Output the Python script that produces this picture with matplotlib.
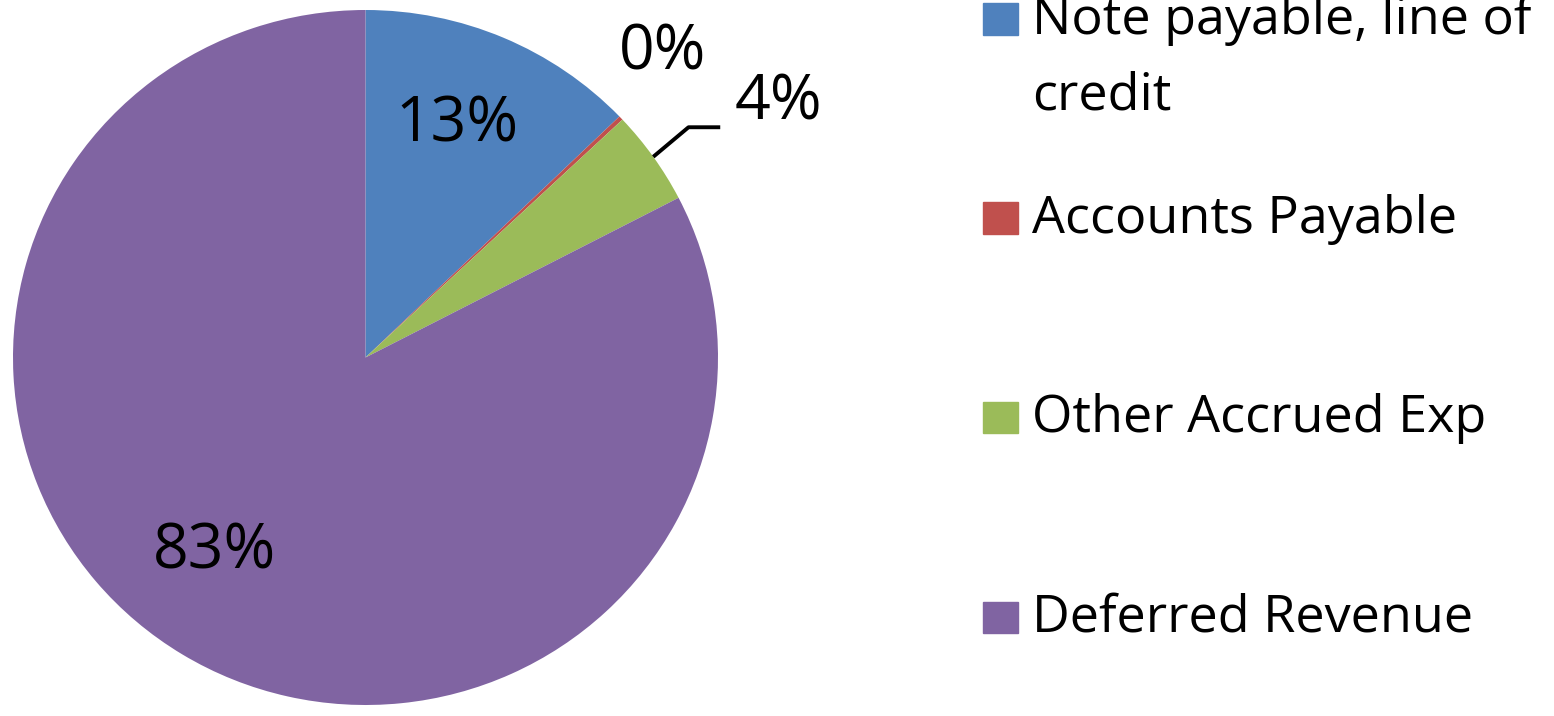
import matplotlib
matplotlib.use("Agg")
import matplotlib.pyplot as plt
from matplotlib.patches import Rectangle
import numpy as np

plt.rcParams['font.family'] = ['Open Sans', 'DejaVu Sans']

# data (percent of total liabilities)
categories = ["Note payable, line of\ncredit", "Accounts Payable",
              "Other Accrued Exp", "Deferred Revenue"]
values = [12.8, 0.2, 4.4, 82.6]
pct_labels = ["13%", "0%", "4%", "83%"]
colors = ["#4F81BD", "#C0504D", "#9BBB59", "#8064A2"]

W, H = 1554, 716
fig = plt.figure(figsize=(W / 100, H / 100), dpi=100)

def fx(px):
    return px / W

def fy(py):
    return 1 - py / H

# pie axes: center (365.5, 357.5), radii 352.5 x 347.5 px
cx, cy, rx, ry = 365.5, 357.5, 352.5, 347.5
ax = fig.add_axes([fx(cx - rx), fy(cy + ry), 2 * rx / W, 2 * ry / H])
wedges, _ = ax.pie(values, colors=colors, startangle=90, counterclock=False,
                   wedgeprops=dict(linewidth=0))
ax.set_aspect('auto')
ax.set_xlim(-1, 1)
ax.set_ylim(-1, 1)
ax.axis('off')

lbl_kw = dict(fontsize=45, color="black")

# inside labels
ax.text(0.260, 0.668, pct_labels[0], ha='center', va='center', **lbl_kw)
ax.text(-0.427, -0.560, pct_labels[3], ha='center', va='center', **lbl_kw)
# outside labels
ax.text(0.843, 0.876, pct_labels[1], ha='center', va='center', **lbl_kw)

# leader line for the green slice
w = wedges[2]
mid = np.deg2rad((w.theta1 + w.theta2) / 2)
edge = np.array([np.cos(mid), np.sin(mid)])
elbow = edge + np.array([0.10, 0.085])
end = elbow + np.array([0.09, 0.0])
ax.plot([edge[0], elbow[0], end[0]], [edge[1], elbow[1], end[1]],
        color="black", lw=2.8, clip_on=False, solid_capstyle='butt')
ax.text(end[0] + 0.04, end[1] + 0.07, pct_labels[2], ha='left', va='center', **lbl_kw)

# legend drawn by hand to mimic the spreadsheet layout
sq_centers = [19, 218, 417, 617]
for lab, col, yc in zip(categories, colors, sq_centers):
    fig.patches.append(Rectangle((fx(983), fy(yc + 15.5)), 35 / W, 31 / H,
                                 transform=fig.transFigure, color=col))
    for i, line in enumerate(lab.split("\n")):
        fig.text(fx(1032), fy(yc + 15 + i * 75), line, fontsize=37.5,
                 ha='left', va='baseline', color="black")

fig.savefig("out.png", dpi=100)
